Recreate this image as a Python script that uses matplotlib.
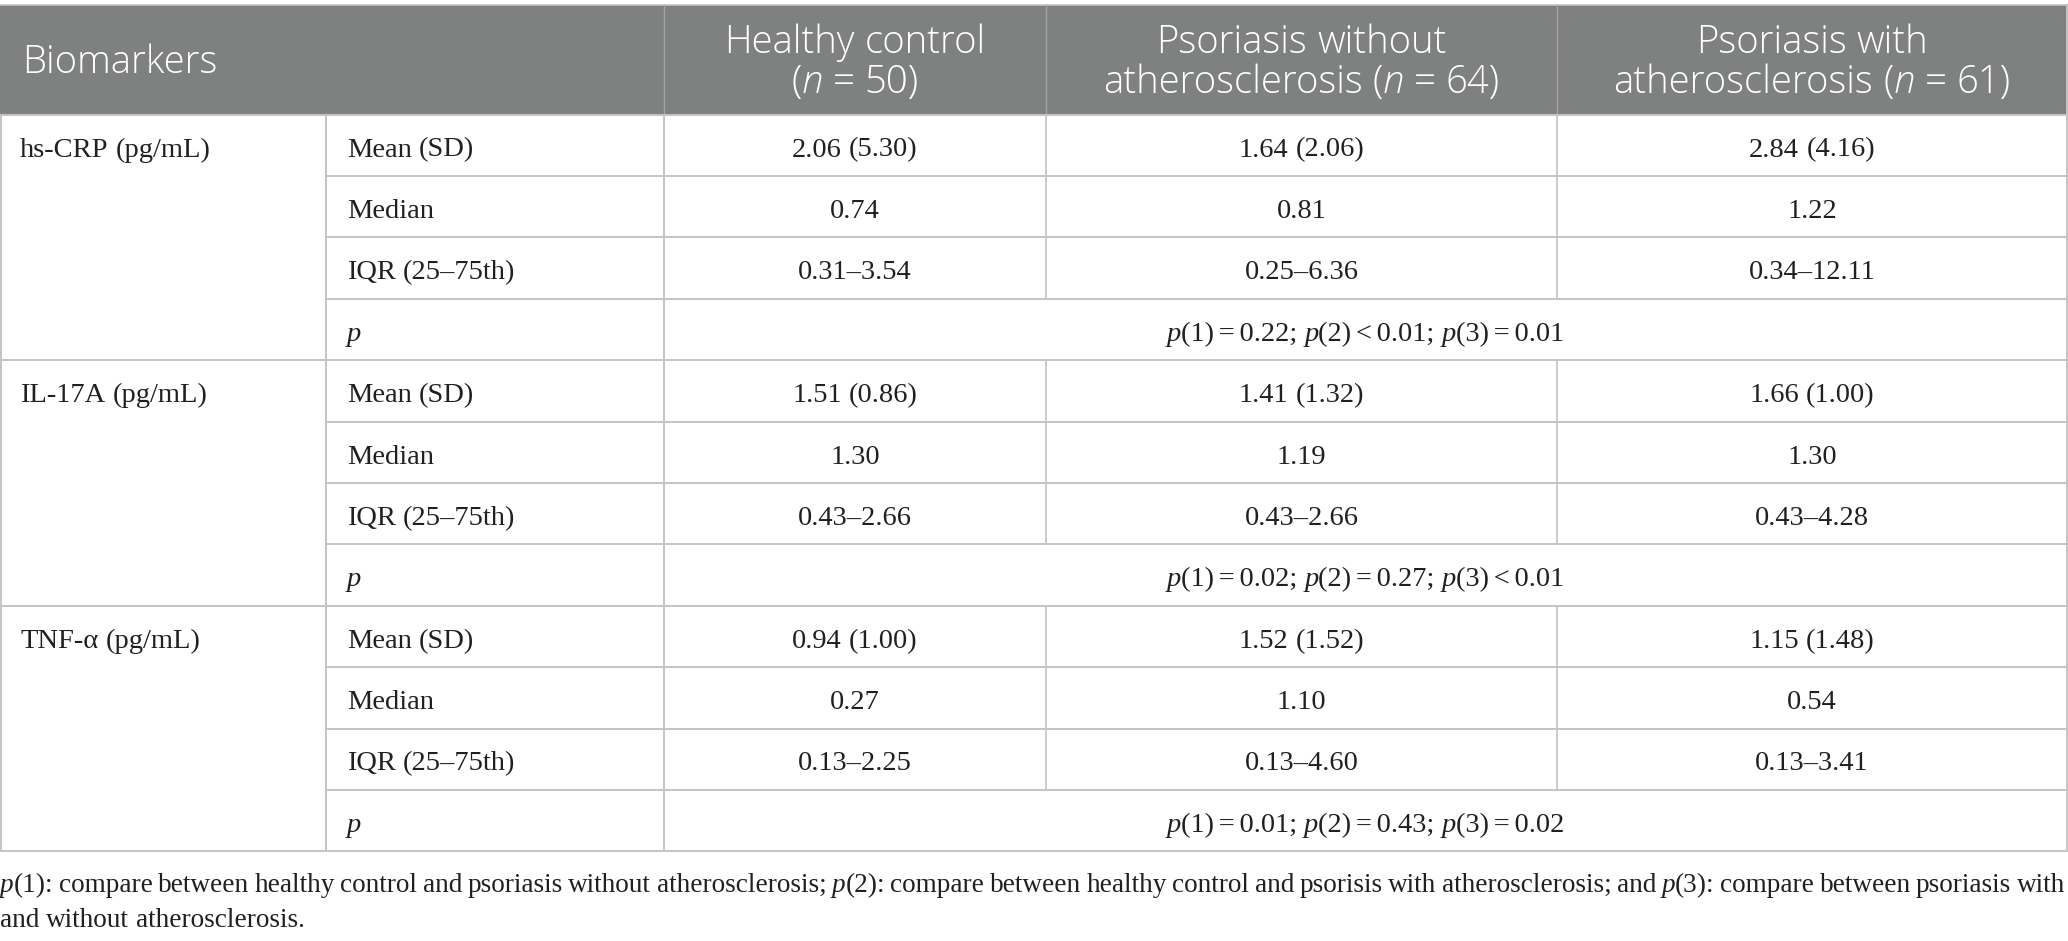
import matplotlib
matplotlib.use("Agg")
import matplotlib.pyplot as plt
from matplotlib.patches import Rectangle

# ---- table content ----
biomarkers = ["hs-CRP (pg/mL)", "IL-17A (pg/mL)", "TNF-\u03b1 (pg/mL)"]
statistics = ["Mean (SD)", "Median", "IQR (25\u201375th)", "p"]
group_top = ["Healthy control", "Psoriasis without", "Psoriasis with"]
group_prefix = ["", "atherosclerosis ", "atherosclerosis "]
group_n = ["50", "64", "61"]

mean_sd = [["2.06 (5.30)", "1.64 (2.06)", "2.84 (4.16)"],
           ["1.51 (0.86)", "1.41 (1.32)", "1.66 (1.00)"],
           ["0.94 (1.00)", "1.52 (1.52)", "1.15 (1.48)"]]
median = [["0.74", "0.81", "1.22"],
          ["1.30", "1.19", "1.30"],
          ["0.27", "1.10", "0.54"]]
iqr = [["0.31\u20133.54", "0.25\u20136.36", "0.34\u201312.11"],
       ["0.43\u20132.66", "0.43\u20132.66", "0.43\u20134.28"],
       ["0.13\u20132.25", "0.13\u20134.60", "0.13\u20133.41"]]
p_signs = [["=", "<", "="], ["=", "=", "<"], ["=", "=", "="]]
p_vals = [["0.22", "0.01", "0.01"], ["0.02", "0.27", "0.01"], ["0.01", "0.43", "0.02"]]

footnote1 = [("p", True), ("(1): compare between healthy control and psoriasis without atherosclerosis; ", False),
             ("p", True), ("(2): compare between healthy control and psorisis with atherosclerosis; and ", False),
             ("p", True), ("(3): compare between psoriasis with", False)]
footnote2 = [("and without atherosclerosis.", False)]

# ---- layout ----
W, H = 2068, 941
col_edges = [0, 326, 664, 1046, 1557, 2067]
head_top, head_bot = 4.5, 114.5
row_h = 61.4
SERIF = ["Liberation Serif", "DejaVu Serif"]
SANS = ["Open Sans", "DejaVu Sans"]
BODY = 20.5
NOTE = 19.6
HEAD = 27.5
ink = "#231f20"
grid = "#c4c4c4"
head_bg = "#7f8080"

fig = plt.figure(figsize=(W / 100, H / 100), dpi=100)
ax = fig.add_axes([0, 0, 1, 1])
ax.set_xlim(0, W)
ax.set_ylim(H, 0)
ax.axis("off")
renderer = fig.canvas.get_renderer()

_cache = {}


def adv(s, italic, size, family, weight):
    key = (s, italic, size, tuple(family), weight)
    if key not in _cache:
        kw = dict(fontsize=size, family=family, style="italic" if italic else "normal", weight=weight)
        t1 = ax.text(0, 0, "|" + s + "|", **kw)
        t2 = ax.text(0, 0, "||", **kw)
        _cache[key] = t1.get_window_extent(renderer).width - t2.get_window_extent(renderer).width
        t1.remove()
        t2.remove()
    return _cache[key]


def put_runs(x, y, runs, ha="center", size=BODY, family=SERIF, color=ink, weight="normal", justify=None):
    words = [[]]
    for text, it in runs:
        for k, part in enumerate(text.split(" ")):
            if k > 0:
                words.append([])
            if part:
                words[-1].append((part, it))
    words = [w for w in words if w]
    space = adv(" ", False, size, family, weight)
    widths = [[adv(p, it, size, family, weight) for p, it in w] for w in words]
    natural = sum(sum(w) for w in widths) + space * (len(words) - 1)
    gap = space
    if justify is not None and len(words) > 1:
        gap = space + (justify - natural) / (len(words) - 1)
        natural = justify
    if ha == "center":
        cx = x - natural / 2
    else:
        cx = x
    for w, ws in zip(words, widths):
        for (p, it), pw in zip(w, ws):
            ax.text(cx, y, p, fontsize=size, family=family, style="italic" if it else "normal",
                    weight=weight, color=color, ha="left", va="baseline")
            cx += pw
        cx += gap


# header band
ax.add_patch(Rectangle((0, head_top), col_edges[-1], head_bot - head_top, facecolor=head_bg, edgecolor="none"))
ax.plot([0, col_edges[-1]], [head_top, head_top], color=grid, lw=1.2)
for xe in col_edges[2:5]:
    ax.plot([xe, xe], [head_top, head_bot], color="#a3a3a3", lw=1.0)

hkw = dict(size=HEAD, family=SANS, color="white", weight="light")
put_runs(22, 73, [("Biomarkers", False)], ha="left", **hkw)
centers = [(col_edges[i] + col_edges[i + 1]) / 2 for i in range(2, 5)]
for cx, top_txt, pre, n in zip(centers, group_top, group_prefix, group_n):
    put_runs(cx, 53, [(top_txt, False)], **hkw)
    put_runs(cx, 93, [(pre + "(", False), ("n ", True), ("= " + n + ")", False)], **hkw)

# body rows
n_rows = len(biomarkers) * len(statistics)
bottom = head_bot + n_rows * row_h
ax.plot([0, col_edges[-1]], [head_bot, head_bot], color=grid, lw=1.4)
for b, name in enumerate(biomarkers):
    block_top = head_bot + b * len(statistics) * row_h
    put_runs(20, block_top + 42, [(name, False)], ha="left")
    for s, stat in enumerate(statistics):
        top = block_top + s * row_h
        base = top + 42
        put_runs(col_edges[1] + 21, base, [(stat, stat == "p")], ha="left")
        if stat == "p":
            runs = []
            for k in range(3):
                tail = "; " if k < 2 else ""
                runs += [("p", True), ("(%d)\u2006%s\u2006%s%s" % (k + 1, p_signs[b][k], p_vals[b][k], tail), False)]
            put_runs((col_edges[2] + col_edges[5]) / 2, base, runs)
        else:
            vals = [mean_sd, median, iqr][s][b]
            for cx, v in zip(centers, vals):
                put_runs(cx, base, [(v, False)])
        # row separator lines
        y_line = top + row_h
        x0 = 0 if s == len(statistics) - 1 else col_edges[1]
        ax.plot([x0, col_edges[-1]], [y_line, y_line], color=grid, lw=1.4)
        if stat != "p":
            for xe in col_edges[3:5]:
                ax.plot([xe, xe], [top, top + row_h], color=grid, lw=1.2)

for xe in [col_edges[0] + 0.7, col_edges[1], col_edges[2], col_edges[-1]]:
    ax.plot([xe, xe], [head_bot if xe < 1000 else head_top, bottom], color=grid, lw=1.4)

# footnote
put_runs(0, 892, footnote1, ha="left", size=NOTE, justify=2065)
put_runs(0, 927, footnote2, ha="left", size=NOTE)

fig.savefig("out.png", dpi=100, facecolor="white")
